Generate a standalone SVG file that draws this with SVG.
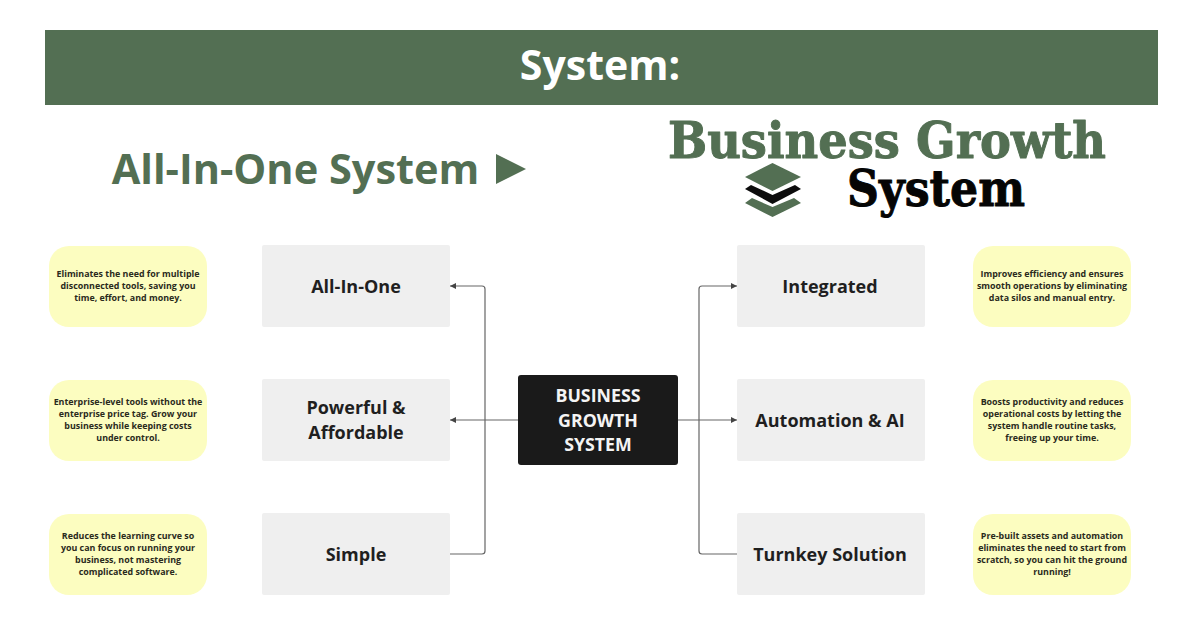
<svg xmlns="http://www.w3.org/2000/svg" width="1200" height="618" viewBox="0 0 1200 618">
<style>
text{text-anchor:middle}
.s{font-family:"Open Sans","Noto Sans",sans-serif;font-weight:700}
.note{fill:#fcfdc0}
.note-t{font-size:8.9px;fill:#2a2a1c}
.box{fill:#efefef}
.box-t{font-size:18px;fill:#1f1f1f}
.conn{fill:none;stroke:#666;stroke-width:1.2}
.serif{font-family:"DejaVu Serif","Liberation Serif",serif;font-weight:700;stroke-width:1;stroke-linejoin:round}
</style>
<defs>
<marker id="tip" markerWidth="8" markerHeight="8" refX="6" refY="3" orient="auto" markerUnits="userSpaceOnUse"><path d="M0 0L6 3L0 6Z" fill="#444"/></marker>
</defs>
<rect width="1200" height="618" fill="#fff"/>
<!-- Title band -->
<g id="banner"><rect x="45" y="30" width="1113" height="75" fill="#536f53"/>
<text class="s" x="600" y="80" font-size="41" fill="#fff">System:</text></g>
<g id="heading"><text class="s" x="295.500" y="183.500" font-size="41.500" fill="#536f53">All-In-One System</text>
<path d="M496 154L526 169L496 184Z" fill="#536f53"/></g>
<!-- Logo: wordmark and stacked layers -->
<g id="brand">
<text class="serif" x="887" y="158" font-size="51" fill="#536f53" stroke="#536f53" textLength="438" lengthAdjust="spacingAndGlyphs">Business Growth</text>
<text class="serif" x="936" y="206" font-size="51" fill="#050505" stroke="#050505" textLength="178" lengthAdjust="spacingAndGlyphs">System</text>
<path d="M772.500 163L801 177L772.500 191L745 177Z" fill="#536f53"/>
<path d="M751 185L772.500 195L795 185L801 189L772.500 204L745 189Z" fill="#0c0c0c"/>
<path d="M752 198L772.500 207L794 198L801 203L772.500 217L745 203Z" fill="#536f53"/>
</g>
<g id="connectors">
<path class="conn" d="M450 554H482Q485 554 485 551V289Q485 286 482 286H450" marker-end="url(#tip)"/>
<path class="conn" d="M518 420H450" marker-end="url(#tip)"/>
<path class="conn" d="M737 554H702Q699 554 699 551V289Q699 286 702 286H737" marker-end="url(#tip)"/>
<path class="conn" d="M678 420H737" marker-end="url(#tip)"/>
</g>
<g id="hub"><rect x="518" y="375" width="160" height="90" rx="3" fill="#1a1a1a"/>
<text class="s" font-size="17.800" fill="#f4f4f4"><tspan x="598" y="402">BUSINESS</tspan><tspan x="598" y="427">GROWTH</tspan><tspan x="598" y="451">SYSTEM</tspan></text></g>
<g id="all-in-one"><rect class="box" x="262" y="245" width="188" height="82" rx="2"/><text class="s box-t" x="356" y="293">All-In-One</text></g>
<g id="powerful"><rect class="box" x="262" y="379" width="188" height="82" rx="2"/><text class="s box-t"><tspan x="356" y="414">Powerful &amp;</tspan><tspan x="356" y="439">Affordable</tspan></text></g>
<g id="simple"><rect class="box" x="262" y="513" width="188" height="82" rx="2"/><text class="s box-t" x="356" y="561">Simple</text></g>
<g id="integrated"><rect class="box" x="737" y="245" width="188" height="82" rx="2"/><text class="s box-t" x="830" y="293">Integrated</text></g>
<g id="automation"><rect class="box" x="737" y="379" width="188" height="82" rx="2"/><text class="s box-t" x="830" y="427">Automation &amp; AI</text></g>
<g id="turnkey"><rect class="box" x="737" y="513" width="188" height="82" rx="2"/><text class="s box-t" x="830" y="561">Turnkey Solution</text></g>
<g id="note-all-in-one"><rect class="note" x="49" y="246" width="158" height="81" rx="20"/><text class="s note-t"><tspan x="128" y="277">Eliminates the need for multiple</tspan><tspan x="128" y="289">disconnected tools, saving you</tspan><tspan x="128" y="301">time, effort, and money.</tspan></text></g>
<g id="note-powerful"><rect class="note" x="49" y="380" width="158" height="81" rx="20"/><text class="s note-t"><tspan x="128" y="405">Enterprise-level tools without the</tspan><tspan x="128" y="417">enterprise price tag. Grow your</tspan><tspan x="128" y="429">business while keeping costs</tspan><tspan x="128" y="441">under control.</tspan></text></g>
<g id="note-simple"><rect class="note" x="49" y="514" width="158" height="81" rx="20"/><text class="s note-t"><tspan x="128" y="539">Reduces the learning curve so</tspan><tspan x="128" y="551">you can focus on running your</tspan><tspan x="128" y="563">business, not mastering</tspan><tspan x="128" y="575">complicated software.</tspan></text></g>
<g id="note-integrated"><rect class="note" x="973" y="246" width="158" height="81" rx="20"/><text class="s note-t"><tspan x="1052" y="277">Improves efficiency and ensures</tspan><tspan x="1052" y="289">smooth operations by eliminating</tspan><tspan x="1052" y="301">data silos and manual entry.</tspan></text></g>
<g id="note-automation"><rect class="note" x="973" y="380" width="158" height="81" rx="20"/><text class="s note-t"><tspan x="1052" y="405">Boosts productivity and reduces</tspan><tspan x="1052" y="417">operational costs by letting the</tspan><tspan x="1052" y="429">system handle routine tasks,</tspan><tspan x="1052" y="441">freeing up your time.</tspan></text></g>
<g id="note-turnkey"><rect class="note" x="973" y="514" width="158" height="81" rx="20"/><text class="s note-t"><tspan x="1052" y="539">Pre-built assets and automation</tspan><tspan x="1052" y="551">eliminates the need to start from</tspan><tspan x="1052" y="563">scratch, so you can hit the ground</tspan><tspan x="1052" y="575">running!</tspan></text></g>
</svg>
